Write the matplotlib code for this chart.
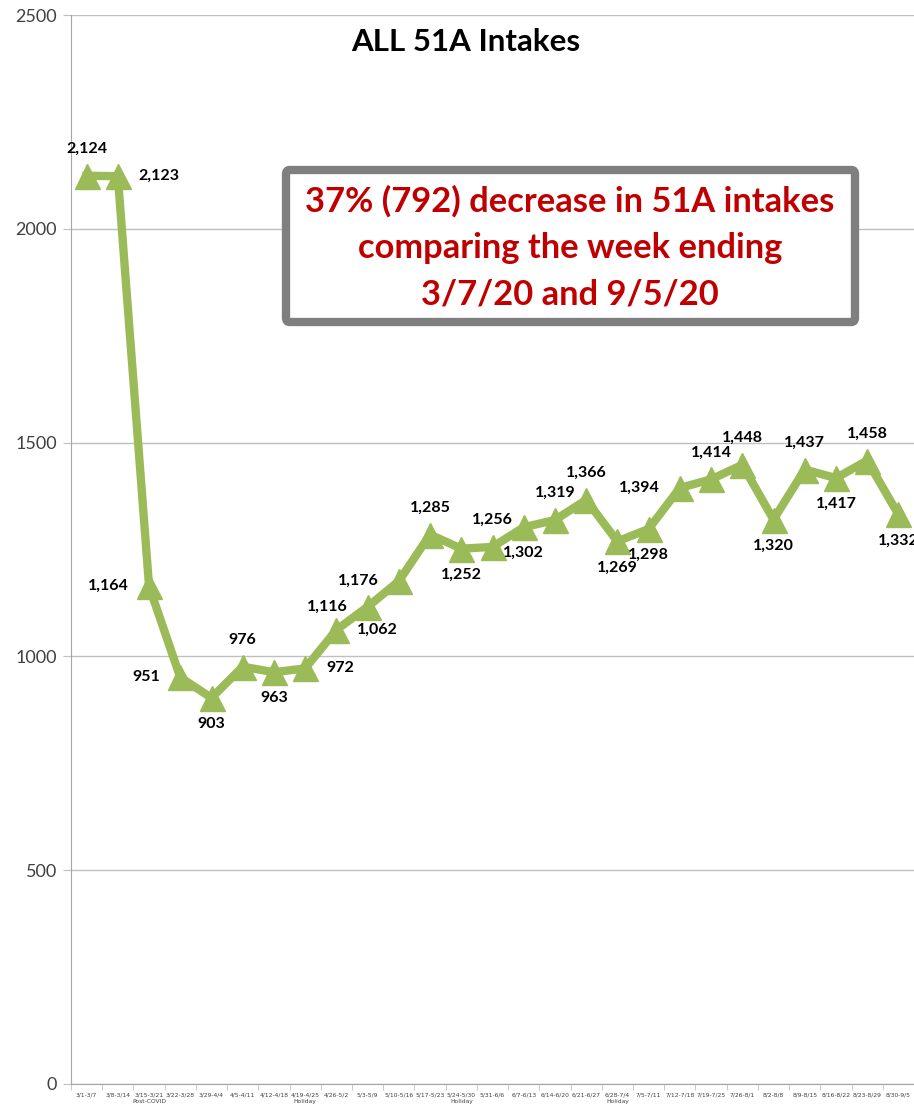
import matplotlib
matplotlib.use("Agg")
import matplotlib.pyplot as plt
from matplotlib.patches import FancyBboxPatch

# Weekly 51A intakes
weeks = ["3/1-3/7", "3/8-3/14", "3/15-3/21\nPost-COVID", "3/22-3/28", "3/29-4/4",
         "4/5-4/11", "4/12-4/18", "4/19-4/25\nHoliday", "4/26-5/2", "5/3-5/9",
         "5/10-5/16", "5/17-5/23", "5/24-5/30\nHoliday", "5/31-6/6", "6/7-6/13",
         "6/14-6/20", "6/21-6/27", "6/28-7/4\nHoliday", "7/5-7/11", "7/12-7/18",
         "7/19-7/25", "7/26-8/1", "8/2-8/8", "8/9-8/15", "8/16-8/22",
         "8/23-8/29", "8/30-9/5"]
intakes = [2124, 2123, 1164, 951, 903, 976, 963, 972, 1062, 1116, 1176, 1285, 1252,
           1256, 1302, 1319, 1366, 1269, 1298, 1394, 1414, 1448, 1320, 1437, 1417,
           1458, 1332]
# where each data label sits relative to its point
label_pos = ["above", "right", "left", "left", "below", "above", "below", "right",
             "right", "left", "left", "above", "below", "above", "below", "above",
             "above", "below", "below", "left", "above", "above", "below", "above",
             "below", "above", "below"]

green = "#9BBB59"
W, H = 914, 1104

fig = plt.figure(figsize=(W / 100, H / 100), dpi=100)
ax = fig.add_axes([71 / W, 20 / H, (W - 71) / W, (1084 - 15) / H])

x = list(range(len(weeks)))
ax.plot(x, intakes, color=green, linewidth=6, marker="^", markersize=18,
        markerfacecolor=green, markeredgecolor=green, solid_joinstyle="miter",
        clip_on=False, zorder=3)

offsets = {"above": ((0, 27), "center"), "below": ((0, -26), "center"),
           "left": ((-20, 0), "right"), "right": ((21, 0), "left")}
for xi, v, pos in zip(x, intakes, label_pos):
    off, ha = offsets[pos]
    ax.annotate(f"{v:,}", (xi, v), xytext=off, textcoords="offset pixels",
                ha=ha, va="center", fontsize=11.5, fontweight="bold",
                family="Lato", color="black", annotation_clip=False, zorder=4)

ax.set_xlim(-0.5, len(weeks) - 0.5)
ax.set_ylim(0, 2500)
ax.set_yticks([0, 500, 1000, 1500, 2000, 2500])
ax.tick_params(axis="y", length=6, color="#BFBFBF", labelsize=13,
               labelcolor="#404040", pad=4)
for lab in ax.get_yticklabels():
    lab.set_family("Lato")
ax.grid(axis="y", color="#BFBFBF", linewidth=1)
ax.set_axisbelow(True)

ax.set_xticks(x)
ax.set_xticklabels(weeks, fontsize=4.3, color="#404040", linespacing=1.4)
ax.set_xticks([i + 0.5 for i in range(-1, len(weeks))], minor=True)
ax.tick_params(axis="x", which="major", length=0, pad=6)
ax.tick_params(axis="x", which="minor", length=4, color="#BFBFBF")

for side in ["top", "right"]:
    ax.spines[side].set_visible(False)
ax.spines["left"].set_color("#A6A6A6")
ax.spines["bottom"].set_color("#A6A6A6")

fig.text(466 / W, 1 - 42 / H, "ALL 51A Intakes", ha="center", va="center",
         fontsize=22.5, fontweight="bold", family="Lato", color="black")

# callout box
box = FancyBboxPatch((286 / W, 1 - 322 / H), (855 - 286) / W, (322 - 170) / H,
                     boxstyle="round,pad=0,rounding_size=0.004",
                     transform=fig.transFigure, facecolor="white",
                     edgecolor="#7F7F7F", linewidth=6, zorder=5)
fig.add_artist(box)
lines = ["37% (792) decrease in 51A intakes", "comparing the week ending",
         "3/7/20 and 9/5/20"]
for i, ln in enumerate(lines):
    fig.text(570 / W, 1 - (201 + 46.5 * i) / H, ln, ha="center", va="center",
             fontsize=24.8, fontweight="bold", family="Lato", color="#C00000",
             zorder=6)

fig.savefig("out.png", dpi=100)
